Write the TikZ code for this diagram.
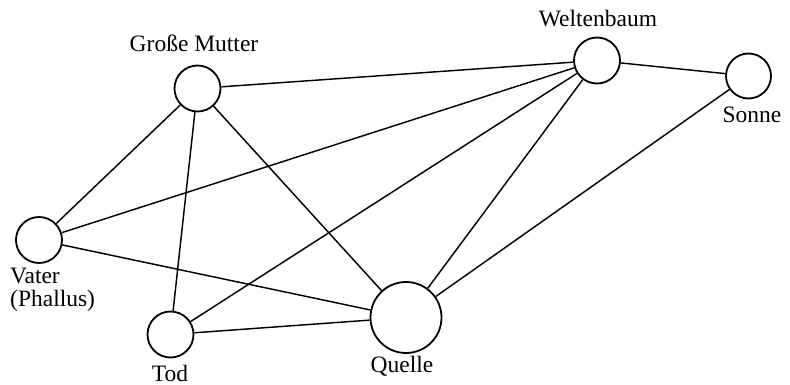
\documentclass[tikz,border=0pt]{standalone}
\usepackage{fontspec}
\setmainfont{Liberation Serif}
\begin{document}
\begin{tikzpicture}[x=1pt,y=-1pt,
  ring/.style={draw,circle,line width=1.8pt,inner sep=0pt},
  edge/.style={line width=1.45pt},
  lbl/.style={font=\fontsize{23.5}{26}\selectfont,inner sep=0pt,anchor=base}]
\useasboundingbox (0,0) rectangle (790,385);
\node[ring,minimum size=46pt] (gm) at (197.5,88.5) {};
\node[ring,minimum size=46pt] (wb) at (597,60.5) {};
\node[ring,minimum size=45pt] (so) at (748.5,76) {};
\node[ring,minimum size=46pt] (va) at (39,240) {};
\node[ring,minimum size=46pt] (to) at (170.5,334.5) {};
\node[ring,minimum size=71pt] (qu) at (406,317.5) {};
\node[lbl] (lgm) at (194,52) {Große Mutter};
\node[lbl] (lwb) at (598,27) {Weltenbaum};
\node[lbl] (lso) at (752,123) {Sonne};
\node[lbl,anchor=base west] (lva) at (10,283) {Vater};
\node[lbl,anchor=base west] (lph) at (10,306) {(Phallus)};
\node[lbl] (lto) at (170,381) {Tod};
\node[lbl] (lqu) at (402,372) {Quelle};
\draw[edge] (gm) -- (wb);
\draw[edge] (gm) -- (va);
\draw[edge] (gm) -- (to);
\draw[edge] (gm) -- (qu);
\draw[edge] (wb) -- (so);
\draw[edge] (wb) -- (va);
\draw[edge] (wb) -- (to);
\draw[edge] (wb) -- (qu);
\draw[edge] (so) -- (qu);
\draw[edge] (va) -- (qu);
\draw[edge] (to) -- (qu);
\end{tikzpicture}
\end{document}
